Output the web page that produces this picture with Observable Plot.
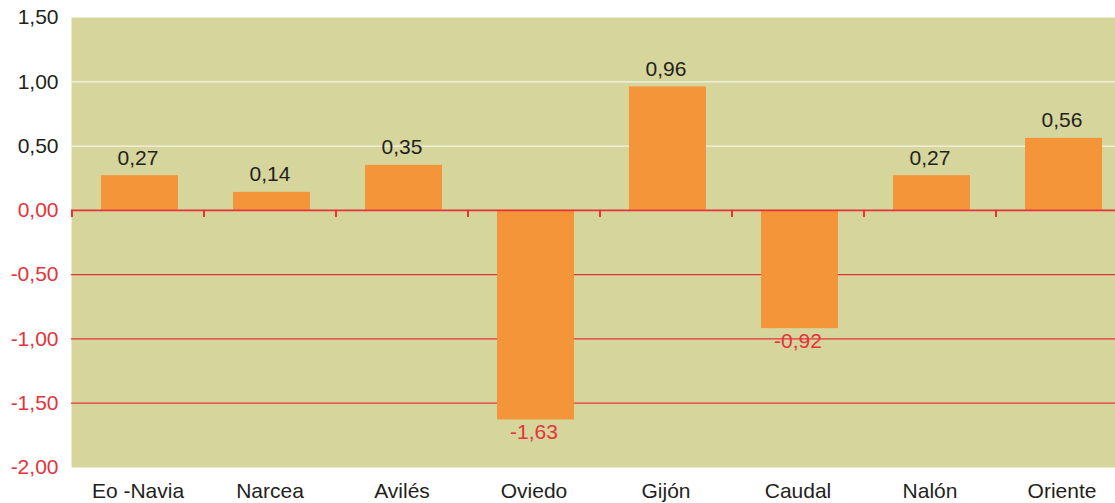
<!DOCTYPE html>
<html>
<head>
<meta charset="utf-8">
<script src="https://cdn.jsdelivr.net/npm/d3@7"></script>
<script src="https://cdn.jsdelivr.net/npm/@observablehq/plot@0.6"></script>
<style>
  html, body { margin: 0; padding: 0; background: #fff; overflow: hidden; }
  svg { display: block; }
</style>
</head>
<body>
<div id="chart"></div>
<script>
const categories = ["Eo -Navia", "Narcea", "Avilés", "Oviedo", "Gijón", "Caudal", "Nalón", "Oriente"];
const values = [0.27, 0.14, 0.35, -1.63, 0.96, -0.92, 0.27, 0.56];
const yTicks = [1.5, 1.0, 0.5, 0.0, -0.5, -1.0, -1.5, -2.0];

const RED = "#e5333b";
const DARK = "#231f20";
const BG = "#d5d59c";
const BAR = "#f5953a";
const FONT = "'Liberation Sans', Arial, Helvetica, sans-serif";

const W = 1115, H = 503, ML = 71, MR = -12;
const step = (W - ML - MR) / categories.length;

const data = categories.map((c, i) => ({cat: c, v: values[i]}));
const fmt = v => v.toFixed(2).replace(".", ",");

const chart = Plot.plot({
  width: W,
  height: H,
  marginTop: 17,
  marginBottom: 36,
  marginLeft: ML,
  marginRight: MR,
  style: {fontFamily: FONT, fontSize: "21px", background: "#fff", overflow: "visible"},
  x: {domain: categories, paddingInner: 0.42, paddingOuter: 0.21, axis: null},
  y: {domain: [-2, 1.5], axis: null},
  marks: [
    Plot.frame({fill: BG, stroke: "none"}),
    Plot.ruleY(yTicks.filter(t => t > 0 && t < 1.5), {stroke: "#f4f3e6", strokeWidth: 1.3}),
    Plot.ruleY(yTicks.filter(t => t < 0 && t > -2), {stroke: RED, strokeWidth: 1.2}),
    Plot.barY(data, {x: "cat", y: "v", fill: BAR, dx: 2}),
    Plot.ruleY([0], {stroke: RED, strokeWidth: 1.6}),
    Plot.ruleX(categories, {x: d => d, y1: 0, y2: -0.055, dx: -step / 2, stroke: RED, strokeWidth: 2}),
    Plot.text(yTicks, {
      y: d => d, text: d => fmt(d), frameAnchor: "left", dx: -13, textAnchor: "end",
      fill: d => d <= 0 ? RED : DARK, fontSize: 21
    }),
    Plot.text(categories, {
      x: d => d, text: d => d, frameAnchor: "bottom", dy: 30, fill: DARK, fontSize: 21
    }),
    Plot.text(data.filter(d => d.v >= 0), {
      x: "cat", y: "v", text: d => fmt(d.v), lineAnchor: "bottom", dy: -11, fill: DARK, fontSize: 21
    }),
    Plot.text(data.filter(d => d.v < 0), {
      x: "cat", y: "v", text: d => fmt(d.v), lineAnchor: "top", dy: 4, fill: RED, fontSize: 21
    })
  ]
});
document.getElementById("chart").appendChild(chart);
</script>
</body>
</html>
